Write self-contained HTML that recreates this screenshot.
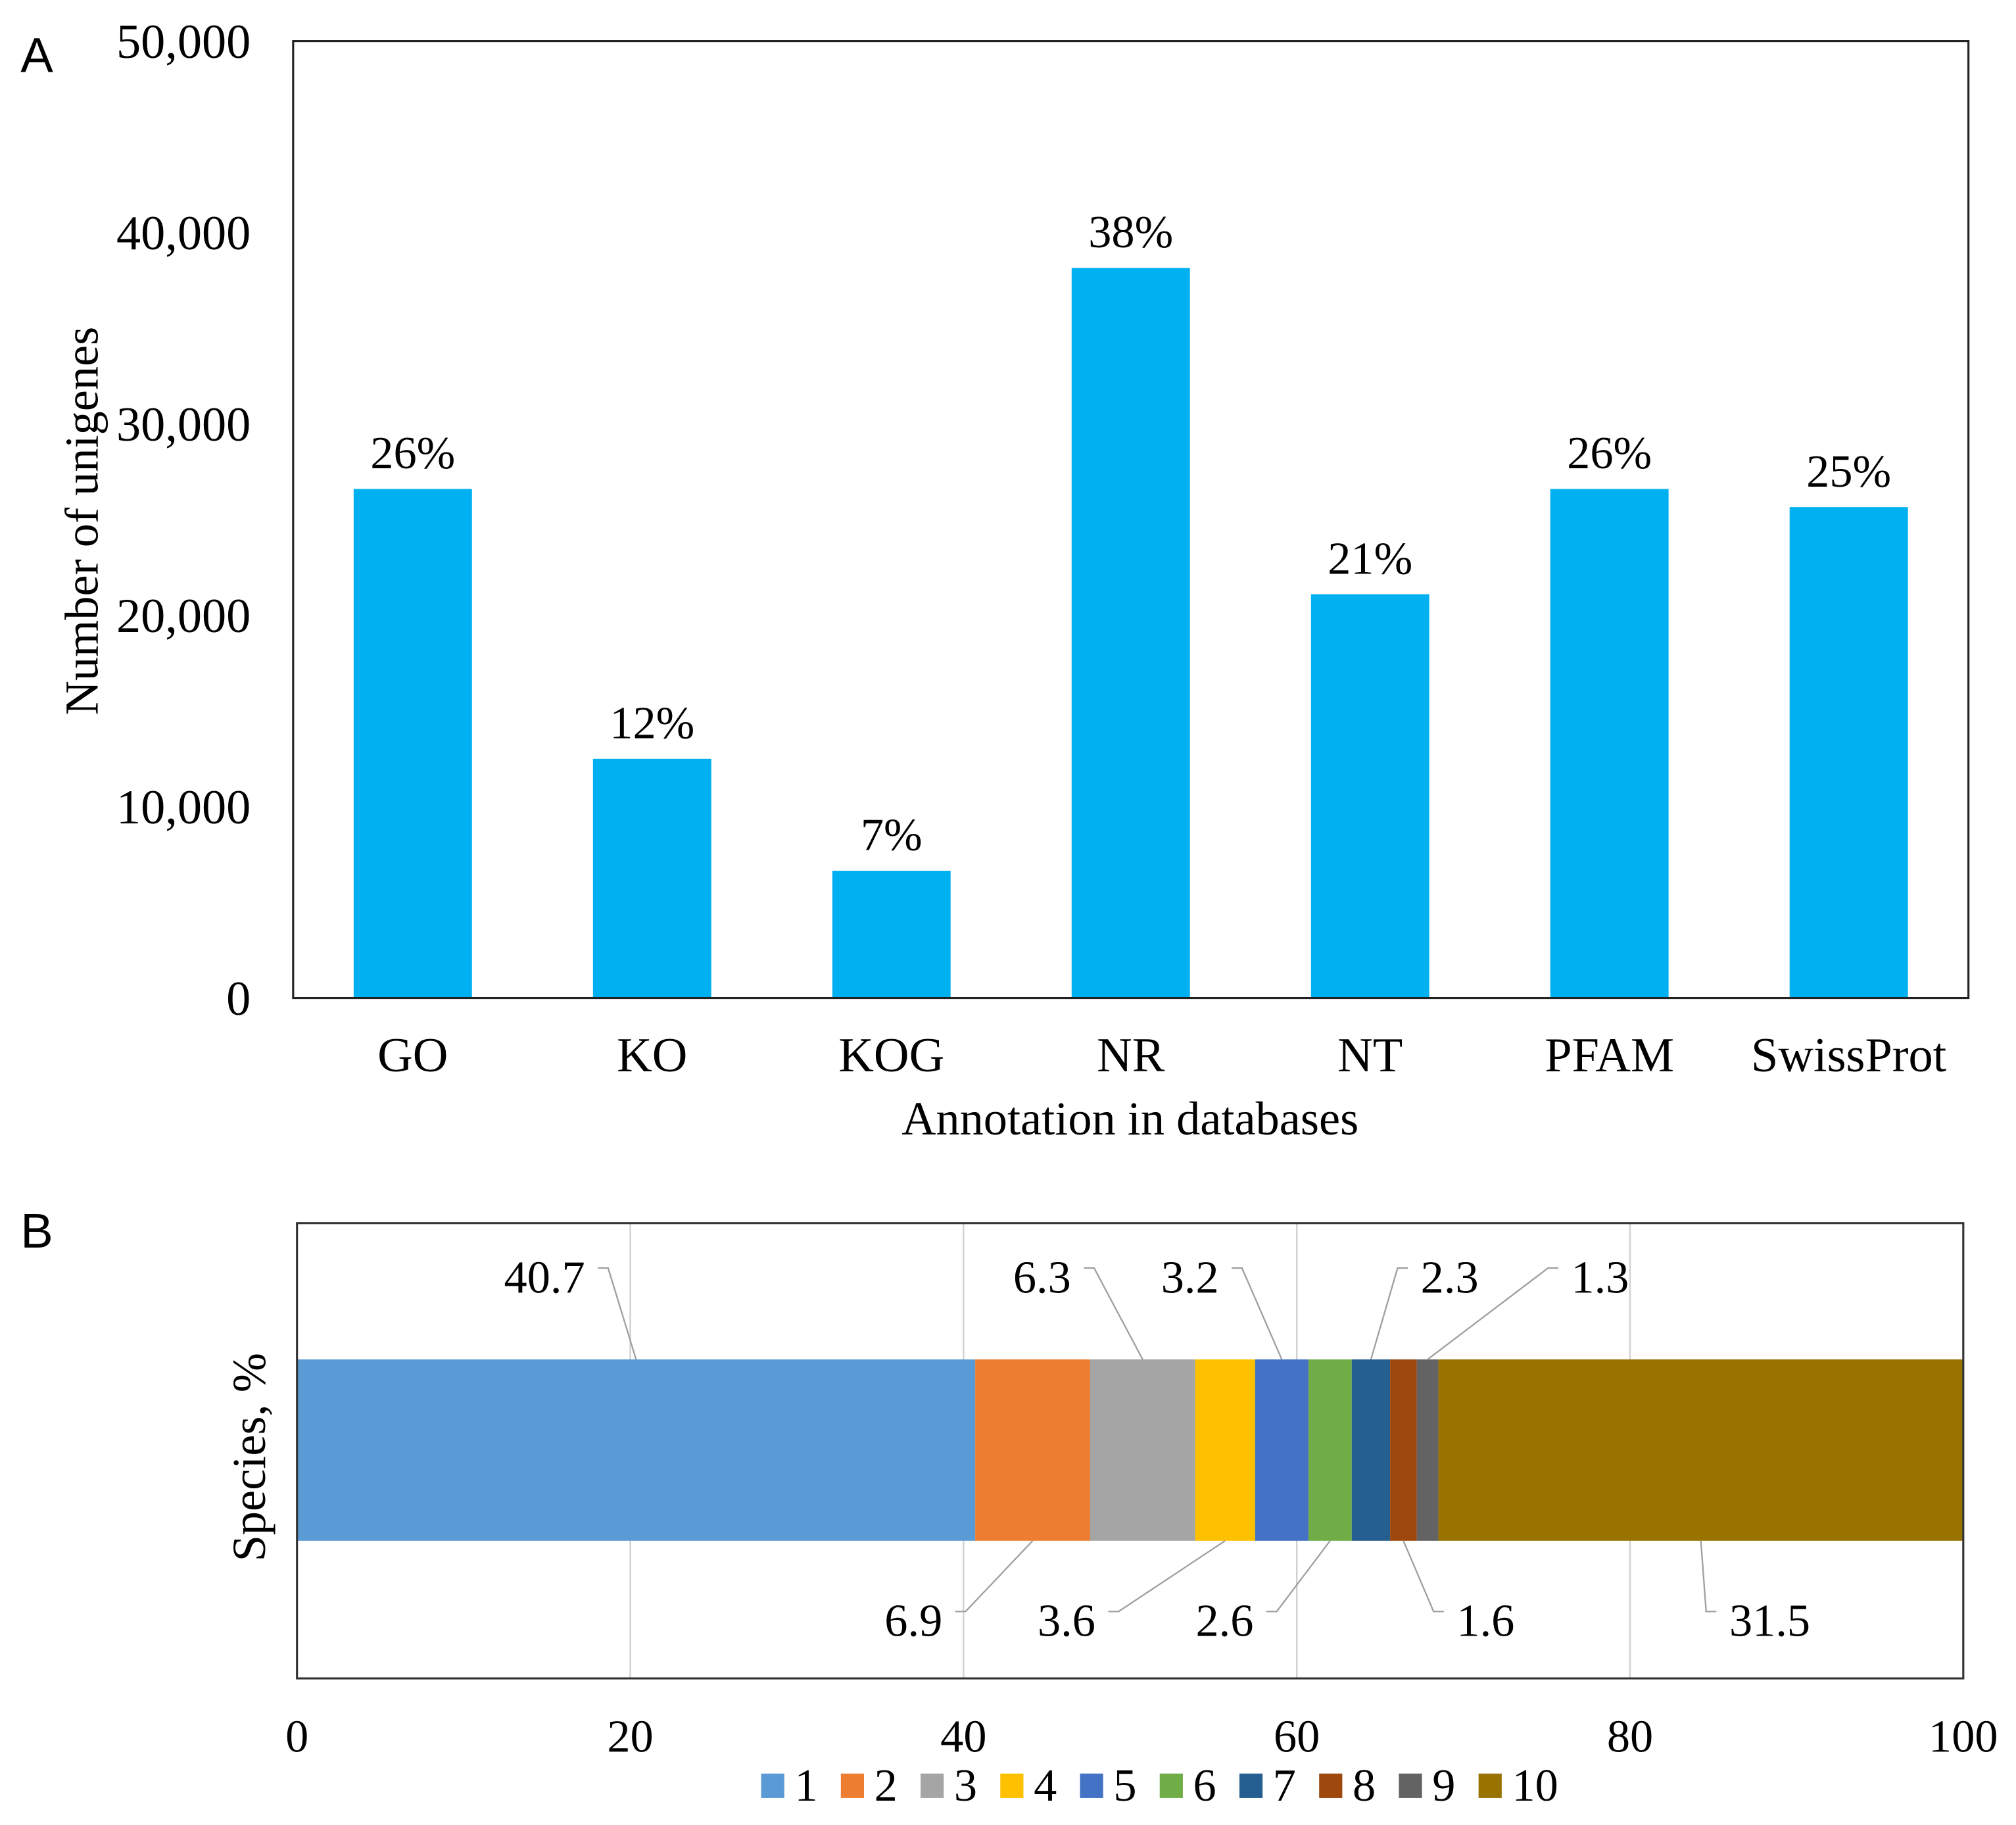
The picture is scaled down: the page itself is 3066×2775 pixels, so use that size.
<!DOCTYPE html>
<html><head><meta charset="utf-8">
<style>
html,body{margin:0;padding:0;background:#fff;}
svg{display:block;}
text{font-family:"Liberation Serif",serif;fill:#000;}
.sans{font-family:"Liberation Sans",sans-serif;}
</style></head>
<body>
<svg id="fig" width="3066" height="2775" viewBox="0 0 1568 1419" preserveAspectRatio="none" xmlns="http://www.w3.org/2000/svg">
<rect x="0" y="0" width="1568" height="1419" fill="#fff"/>
<text class="sans" x="16" y="56" font-size="38">A</text>
<text class="sans" x="16" y="970" font-size="38">B</text>
<g id="chartA"></g>
<g id="chartB"></g>
</svg>
<script>
const categoriesA = ["GO","KO","KOG","NR","NT","PFAM","SwissProt"];
const valuesA = [26600, 12500, 6650, 38150, 21100, 26600, 25650];
const pctLabelsA = ["26%","12%","7%","38%","21%","26%","25%"];
const yTicksA = [0,10000,20000,30000,40000,50000];
const yTickLabelsA = ["0","10,000","20,000","30,000","40,000","50,000"];

const segLabelsB = ["1","2","3","4","5","6","7","8","9","10"];
const segValuesB = [40.7,6.9,6.3,3.6,3.2,2.6,2.3,1.6,1.3,31.5];
const xTicksB = [0,20,40,60,80,100];

const NS="http://www.w3.org/2000/svg";
function mk(tag, attrs, parent){const e=document.createElementNS(NS,tag);for(const k in attrs)e.setAttribute(k,attrs[k]);parent.appendChild(e);return e;}

// ---- Chart A ----
const gA=document.getElementById('chartA');
const A={l:228,r:1531,t:32,b:776,max:50000};
const yA=v=>A.b-(v/A.max)*(A.b-A.t);
const bandA=(A.r-A.l)/categoriesA.length;
const xA=i=>A.l+bandA*(i+0.5);
yTicksA.forEach((v,i)=>{
  const t=mk('text',{x:195,y:yA(v)+13,'font-size':38,'text-anchor':'end'},gA);
  t.textContent=yTickLabelsA[i];
  
  
});
categoriesA.forEach((c,i)=>{
  const w=92;
  const r=mk('rect',{x:xA(i)-w/2,y:yA(valuesA[i]),width:w,height:A.b-yA(valuesA[i]),fill:'#00b0f0'},gA);
  
  
  const p=mk('text',{x:xA(i),y:yA(valuesA[i])-16,'font-size':36,'text-anchor':'middle'},gA);
  p.textContent=pctLabelsA[i];
  
  
  const xl=mk('text',{x:xA(i),y:833,'font-size':38,'text-anchor':'middle'},gA);
  xl.textContent=c;
  
  
});
const frameA=mk('rect',{x:A.l,y:A.t,width:A.r-A.l,height:A.b-A.t,fill:'none',stroke:'#222','stroke-width':1.6},gA);


const xtA=mk('text',{x:879,y:882,'font-size':37,'text-anchor':'middle'},gA);
xtA.textContent='Annotation in databases';


const ytA=mk('text',{x:0,y:0,'font-size':37,'text-anchor':'middle',transform:'translate(76,405) rotate(-90)'},gA);
ytA.textContent='Number of unigenes';



// ---- Chart B ----
const gB=document.getElementById('chartB');
const B={l:231,r:1527,t:951,b:1305,bt:1057,bb:1198};
const xB=v=>B.l+(v/100)*(B.r-B.l);
const colorsB=['#5b9bd5','#ed7d31','#a5a5a5','#ffc000','#4472c4','#70ad47','#255e91','#9e480e','#636363','#997300'];
xTicksB.forEach(v=>{
  if(v>0&&v<100){
    const g=mk('line',{x1:xB(v),x2:xB(v),y1:B.t,y2:B.b,stroke:'#d0d0d0','stroke-width':1.2},gB);
    
    
  }
  const t=mk('text',{x:xB(v),y:1362,'font-size':36,'text-anchor':'middle'},gB);
  t.textContent=String(v);
  
  
});
// label placement (layout): [side, labelX, anchor]
const labelPos=[['top',455,'end'],['bot',733,'end'],['top',833,'end'],['bot',852,'end'],['top',948,'end'],['bot',975,'end'],['top',1105,'start'],['bot',1133,'start'],['top',1222,'start'],['bot',1345,'start']];
let cum=0;
segValuesB.forEach((v,i)=>{
  const x0=xB(cum),x1=xB(cum+v);cum+=v;
  const r=mk('rect',{x:x0,y:B.bt,width:x1-x0,height:B.bb-B.bt,fill:colorsB[i]},gB);
  
  
  const cx=(x0+x1)/2;
  const [side,lx,anc]=labelPos[i];
  const ly=side==='top'?993:1260;
  const tipX=anc==='end'?lx+10:lx-10;
  const elbow=anc==='end'?tipX+8:tipX-8;
  const by=side==='top'?B.bt:B.bb;
  const ln=mk('polyline',{points:`${tipX},${ly-7} ${elbow},${ly-7} ${cx},${by}`,fill:'none',stroke:'#a0a0a0','stroke-width':1.2},gB);
  
  
  const t=mk('text',{x:lx,y:ly+12,'font-size':36,'text-anchor':anc},gB);
  t.textContent=String(v);
  
  
});
const frameB=mk('rect',{x:B.l,y:B.t,width:B.r-B.l,height:B.b-B.t,fill:'none',stroke:'#333','stroke-width':1.6},gB);


const ytB=mk('text',{x:0,y:0,'font-size':37,'text-anchor':'middle',transform:'translate(206,1133) rotate(-90)'},gB);
ytB.textContent='Species, %';


segLabelsB.forEach((s,i)=>{
  const lx=592+i*62;
  const sq=mk('rect',{x:lx,y:1379,width:18,height:19,fill:colorsB[i]},gB);
  
  
  const t=mk('text',{x:lx+26,y:1400,'font-size':36},gB);
  t.textContent=s;
  
  
});
</script>
</body></html>
